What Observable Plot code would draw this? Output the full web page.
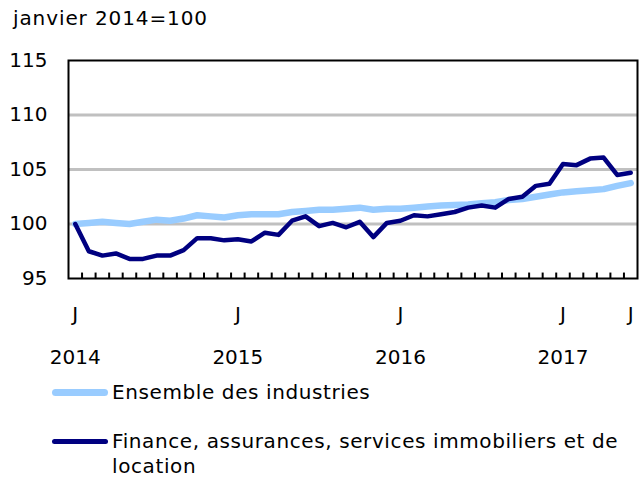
<!DOCTYPE html>
<html>
<head>
<meta charset="utf-8">
<script src="https://cdn.jsdelivr.net/npm/d3@7"></script>
<script src="https://cdn.jsdelivr.net/npm/@observablehq/plot@0.6"></script>
<style>
  body { margin: 0; background: #fff; font-family: "DejaVu Sans", Verdana, sans-serif; color: #000; }
  #title { height: 35px; box-sizing: border-box; padding: 6px 0 0 13px; font-size: 20px; line-height: 24px; letter-spacing: 0.9px; }
  #chart svg { display: block; }
  #legend { font-size: 20px; line-height: 25px; letter-spacing: 0.6px; }
  .item { display: flex; align-items: flex-start; padding-left: 52px; }
  .sw { width: 56px; border-radius: 4px; flex: none; margin-right: 4px; }
  .txt { width: 525px; }
</style>
</head>
<body>
<div id="title"></div>
<div id="chart"></div>
<div id="legend"></div>
<script>
const unitLabel = "janvier 2014=100";
const seriesNames = ["Ensemble des industries", "Finance, assurances, services immobiliers et de location"];
const seriesColors = ["#99ccff", "#000080"];
const monthIndex = d3.range(42); // janvier 2014 .. juin 2017
const allIndustries = [100.0,100.1,100.2,100.1,100.0,100.2,100.4,100.3,100.5,100.8,100.7,100.6,
  100.8,100.9,100.9,100.9,101.1,101.2,101.3,101.3,101.4,101.5,101.3,101.4,
  101.4,101.5,101.6,101.7,101.75,101.8,101.9,102.0,102.2,102.3,102.5,102.7,
  102.9,103.0,103.1,103.2,103.5,103.75];
const finance = [100.0,97.5,97.1,97.3,96.8,96.8,97.1,97.1,97.6,98.7,98.7,98.5,
  98.6,98.4,99.2,99.0,100.3,100.7,99.8,100.1,99.7,100.2,98.8,100.1,
  100.3,100.8,100.7,100.9,101.1,101.5,101.7,101.5,102.3,102.5,103.5,103.7,
  105.5,105.4,106.0,106.1,104.5,104.7];
const yTicks = [95, 100, 105, 110, 115];
const gridValues = [100, 105, 110];
const monthTickIndex = [0, 12, 24, 36, 41];
const monthTickLabels = ["J", "J", "J", "J", "J"];
const yearTickIndex = [0, 12, 24, 36];
const yearTickLabels = ["2014", "2015", "2016", "2017"];

document.getElementById("title").textContent = unitLabel;

const data = monthIndex.flatMap(i => [
  {i, v: allIndustries[i], s: seriesNames[0]},
  {i, v: finance[i], s: seriesNames[1]}
]);
const boundaries = monthIndex.slice(0, -1).map(i => i + 0.5);

const plot = Plot.plot({
  width: 639,
  height: 335,
  marginTop: 25,
  marginBottom: 92,
  marginLeft: 68,
  marginRight: 2,
  style: {fontFamily: "DejaVu Sans, Verdana, sans-serif", fontSize: "20px", color: "#000", background: "#fff", overflow: "visible"},
  x: {domain: [-0.5, 41.5]},
  y: {domain: [95, 115]},
  marks: [
    Plot.ruleY(gridValues, {stroke: "#c0c0c0", strokeWidth: 3}),
    Plot.ruleX(boundaries, {y1: 95, y2: 95.5, stroke: "#000", strokeWidth: 2}),
    Plot.line(data.filter(d => d.s === seriesNames[0]), {x: "i", y: "v", stroke: seriesColors[0], strokeWidth: 6.5}),
    Plot.line(data.filter(d => d.s === seriesNames[1]), {x: "i", y: "v", stroke: seriesColors[1], strokeWidth: 4.5}),
    Plot.frame({stroke: "#000", strokeWidth: 2}),
    Plot.axisY({ticks: yTicks, tickSize: 0, tickPadding: 21, tickFormat: d => String(d), label: null}),
    Plot.axisX({ticks: monthTickIndex, tickSize: 0, tickPadding: 28, tickFormat: d => monthTickLabels[monthTickIndex.indexOf(d)], label: null}),
    Plot.axisX({ticks: yearTickIndex, tickSize: 0, tickPadding: 71, tickFormat: d => yearTickLabels[yearTickIndex.indexOf(d)], label: null})
  ]
});
document.getElementById("chart").appendChild(plot);

const legend = document.getElementById("legend");
const gaps = [10, 24];
seriesNames.forEach((name, k) => {
  const item = document.createElement("div");
  item.className = "item";
  item.style.marginTop = gaps[k] + "px";
  const sw = document.createElement("div");
  sw.className = "sw";
  sw.style.background = seriesColors[k];
  sw.style.height = (k === 0 ? 7 : 5) + "px";
  sw.style.marginTop = (k === 0 ? 9 : 10) + "px";
  const t = document.createElement("div");
  t.className = "txt";
  t.textContent = name;
  item.appendChild(sw);
  item.appendChild(t);
  legend.appendChild(item);
});
</script>
</body>
</html>
